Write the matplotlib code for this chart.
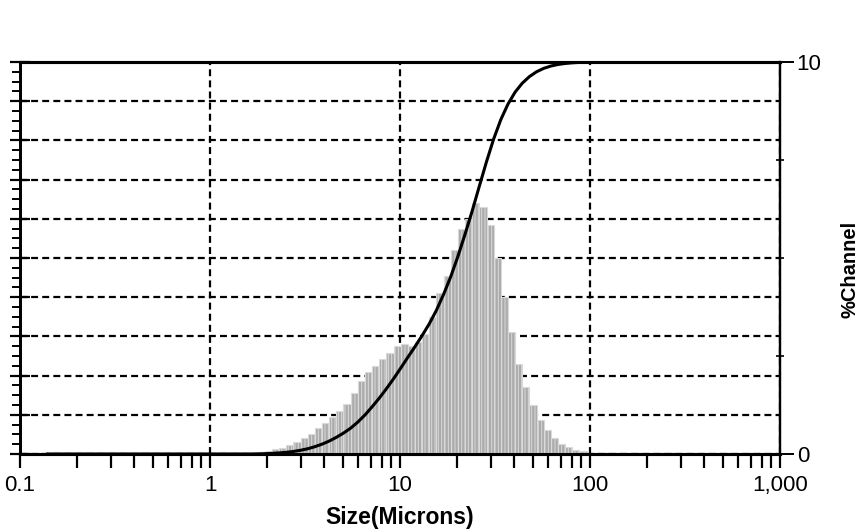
import matplotlib
matplotlib.use("Agg")
from matplotlib import pyplot as plt
from matplotlib.ticker import FixedLocator, LogLocator, NullFormatter
import numpy as np

plt.rcParams['font.family'] = ['Liberation Sans', 'DejaVu Sans']
plt.rcParams['lines.scale_dashes'] = False
plt.rcParams['hatch.linewidth'] = 0.7

# channel edges (microns), one channel per pair of neighbouring edges
channel_edges = [1.635, 1.783, 1.945, 2.121, 2.312, 2.52, 2.75, 3.00, 3.27, 3.56,
                 3.89, 4.24, 4.62, 5.04, 5.50, 5.99, 6.54, 7.13, 7.78, 8.48,
                 9.25, 10.09, 11.00, 12.00, 13.08, 14.27, 15.56, 16.97, 18.50, 20.17,
                 22.00, 23.99, 26.16, 28.53, 31.11, 33.93, 37.00, 40.35, 44.00, 47.98,
                 52.33, 57.06, 62.23, 67.86, 74.00, 80.70, 88.00, 95.96, 104.6]

# % per channel
channel_pct = [0.03, 0.05, 0.08, 0.12, 0.16, 0.22, 0.30, 0.40, 0.52, 0.66,
               0.80, 0.95, 1.10, 1.28, 1.55, 1.85, 2.10, 2.25, 2.42, 2.58,
               2.75, 2.80, 2.75, 2.85, 3.05, 3.50, 4.10, 4.55, 5.20, 5.75,
               6.00, 6.40, 6.30, 5.85, 5.00, 4.00, 3.10, 2.30, 1.70, 1.25,
               0.88, 0.60, 0.40, 0.26, 0.17, 0.11, 0.07, 0.03]

curve_start = 0.14  # cumulative line is drawn flat at 0 from here

x_ticks = [0.1, 1, 10, 100, 1000]
x_tick_labels = ['0.1', '1', '10', '100', '1,000']

edges = np.array(channel_edges)
pct = np.array(channel_pct)
cum = np.cumsum(pct) / pct.sum() * 100
cum_x = np.concatenate([[curve_start, edges[0]], edges[1:]])
cum_y = np.concatenate([[0, 0], cum])

fig = plt.figure(figsize=(8.68, 5.32), dpi=100)
ax = fig.add_axes([20 / 868, 1 - 454 / 532, 760 / 868, 392 / 532])
ax2 = ax.twinx()

dash = (0, (5, 3))

# left axis: cumulative %, only the grid and ticks are shown
ax.set_xscale('log')
ax.set_xlim(0.1, 1000)
ax.set_ylim(0, 100)
ax.set_xticks(x_ticks)
ax.set_xticklabels(x_tick_labels, fontsize=16)
ax.xaxis.set_minor_locator(LogLocator(base=10, subs=np.arange(2, 10)))
ax.xaxis.set_minor_formatter(NullFormatter())
ax.tick_params(axis='x', which='both', direction='out', length=10, width=1.6,
               pad=5, colors='black')
ax.set_yticks(np.arange(0, 101, 10))
ax.yaxis.set_minor_locator(FixedLocator(np.arange(0, 100.1, 2.5)))
ax.tick_params(axis='y', which='major', direction='inout', length=14, width=1.6,
               labelleft=False)
ax.tick_params(axis='y', which='minor', direction='out', length=6, width=1.4)
ax.grid(True, which='major', axis='both', color='black', linestyle=dash,
        linewidth=1.6)
ax.set_xlabel('Size(Microns)', fontsize=16.5, fontweight='bold', labelpad=7)

# right axis: % per channel
ax2.set_ylim(0, 10)
ax2.bar(edges[:-1], pct, width=np.diff(edges), align='edge',
        color='#ababab', edgecolor='#dadada', linewidth=0.8, hatch='|||||',
        zorder=2)
# cumulative curve, scaled onto the 0-10 axis so it sits above the bars
ax2.plot(cum_x, cum_y / 10, color='black', linewidth=2.2, zorder=3)
ax2.set_yticks([0, 10])
ax2.set_yticklabels(['0', '10'], fontsize=16)
ax2.yaxis.set_minor_locator(FixedLocator([2.5, 5, 7.5]))
ax2.tick_params(axis='y', which='major', direction='out', length=10, width=1.4, pad=2)
ax2.tick_params(axis='y', which='minor', direction='inout', length=6, width=1.2)
ax2.set_ylabel('%Channel', fontsize=14.5, fontweight='bold', rotation=90)
ax2.yaxis.set_label_coords(1.079, 0.47)

for a in (ax, ax2):
    for side in ('top', 'bottom'):
        a.spines[side].set_linewidth(2.2)
    a.spines['left'].set_linewidth(2.0)
    a.spines['right'].set_linewidth(1.6)

fig.savefig('out.png', dpi=100)
